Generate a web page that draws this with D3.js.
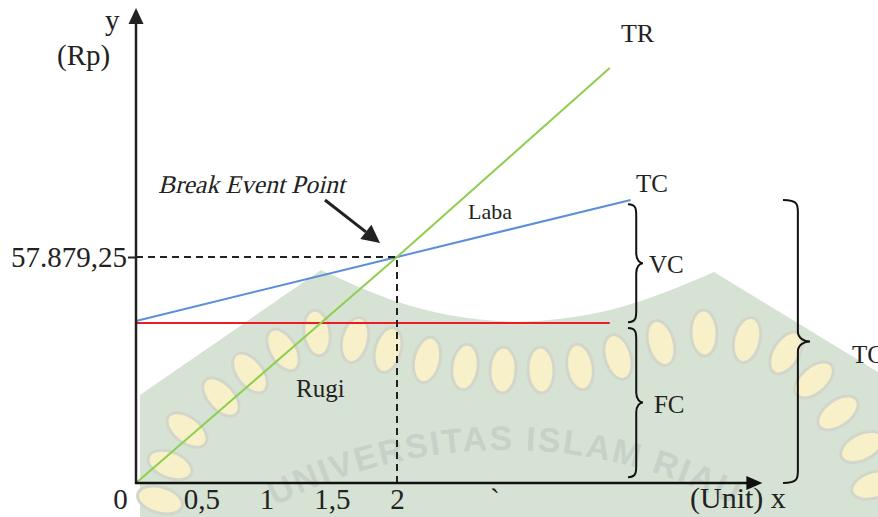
<!DOCTYPE html>
<html>
<head>
<meta charset="utf-8">
<script src="https://cdn.jsdelivr.net/npm/d3@7"></script>
<style>
  body { margin: 0; background: #fff; }
  svg { display: block; font-family: "Liberation Serif", "Times New Roman", serif; }
</style>
</head>
<body>
<svg id="chart"></svg>
<script>
const width = 878, height = 517;

// data (units on x, Rp on y)
const trUnits = [0, 2, 3.63];
const trValues = [0, 57879.25, 106300];
const tcUnits = [0, 2, 3.79];
const tcValues = [41500, 57879.25, 72500];
const fcUnits = [0, 3.63];
const fcValues = [41000, 41000];
const bepUnit = 2;
const bepValue = 57879.25;
const xTicks = [0.5, 1, 1.5, 2];
const yTicks = [bepValue];
const xMax = 4.8, yMax = 121650;

// annotations, in chart units
const labels = [
  { text: "TR", u: 3.716, v: 112900, size: 26 },
  { text: "TC", u: 3.831, v: 74500, size: 25 },
  { text: "VC", u: 3.931, v: 53800, size: 25 },
  { text: "FC", u: 3.969, v: 17900, size: 25 },
  { text: "TC", u: 5.487, v: 30700, size: 25 },
  { text: "Laba", u: 2.544, v: 67600, size: 22 },
  { text: "Rugi", u: 1.226, v: 22000, size: 25 },
  { text: "Break Event Point", u: 0.169, v: 74270, size: 25.5, italic: true }
];
const braces = [
  { u: 3.77, top: 71400, bottom: 41200, w: 15 },
  { u: 3.77, top: 39700, bottom: 1500, w: 15 },
  { u: 4.958, top: 72500, bottom: 0, w: 27 }
];

const svg = d3.select("#chart").attr("width", width).attr("height", height);

const x = d3.scaleLinear().domain([0, 2]).range([136, 397]);
const y = d3.scaleLinear().domain([0, 57879.25]).range([483, 257]);

const idn = d3.formatLocale({ decimal: ",", thousands: ".", grouping: [3], currency: ["Rp", ""] });

// faint watermark in the background
const wm = svg.append("g").attr("class", "watermark");
wm.append("path")
  .attr("d", "M140,517 L140,395 L321,270 C370,292 420,318 513,322 C600,320 650,300 714,272 L878,372 L878,517 Z")
  .attr("fill", "#d6e3d4");
const leafPts = [[160,500],[170,465],[187,430],[221,397],[250,373],[283,350],[317,333],[355,340],[388,350],
  [427,360],[465,367],[503,370],[541,370],[580,367],[618,357],[661,343],[704,333],[747,340],[786,353],
  [814,380],[838,413],[862,447],[874,485]];
leafPts.forEach((p, i) => {
  const a = leafPts[Math.max(0, i - 1)], b = leafPts[Math.min(leafPts.length - 1, i + 1)];
  const ang = Math.atan2(b[1] - a[1], b[0] - a[0]) * 180 / Math.PI;
  wm.append("ellipse")
    .attr("transform", `translate(${p[0]},${p[1]}) rotate(${ang})`)
    .attr("rx", 13).attr("ry", 23)
    .attr("fill", "#f8f0c8").attr("stroke", "#d2d6cb").attr("stroke-width", 3);
});
wm.append("path").attr("id", "wmArc")
  .attr("d", "M5,950 A500,500 0 0,1 1005,950").attr("fill", "none");
wm.append("text")
  .attr("font-family", "Liberation Sans, Arial, sans-serif")
  .attr("font-weight", "bold").attr("font-size", 34).attr("letter-spacing", 2)
  .attr("fill", "#c8d1c8")
  .append("textPath").attr("href", "#wmArc").attr("startOffset", "50%")
  .attr("text-anchor", "middle").text("UNIVERSITAS ISLAM RIAU");

// lines
const line = d3.line().x(d => x(d[0])).y(d => y(d[1]));
svg.append("path").datum(d3.zip(fcUnits, fcValues)).attr("d", line)
  .attr("fill", "none").attr("stroke", "#ea1c24").attr("stroke-width", 2);
svg.append("path").datum(d3.zip(tcUnits, tcValues)).attr("d", line)
  .attr("fill", "none").attr("stroke", "#5b8fd8").attr("stroke-width", 2);
svg.append("path").datum(d3.zip(trUnits, trValues)).attr("d", line)
  .attr("fill", "none").attr("stroke", "#8fcf4f").attr("stroke-width", 2);

// dashed guides to break even point
svg.append("path")
  .attr("d", `M${x(0)},${y(bepValue)} H${x(bepUnit)} V${y(0)}`)
  .attr("fill", "none").attr("stroke", "#222").attr("stroke-width", 2).attr("stroke-dasharray", "7,5");

// axes
svg.append("g")
  .attr("transform", `translate(0,${y(0)})`)
  .call(d3.axisBottom(x).tickValues(xTicks).tickSize(0).tickPadding(5).tickFormat(idn.format("")))
  .call(g => g.select(".domain").remove())
  .attr("font-family", null).attr("font-size", 29)
  .call(g => g.selectAll("text").attr("fill", "#222"));

svg.append("g")
  .attr("transform", `translate(${x(0)},0)`)
  .call(d3.axisLeft(y).tickValues(yTicks).tickSize(8).tickPadding(1).tickFormat(idn.format(",.2f")))
  .call(g => g.select(".domain").remove())
  .attr("font-family", null).attr("font-size", 29)
  .call(g => g.selectAll("line").attr("stroke", "#222").attr("stroke-width", 2))
  .call(g => g.selectAll("text").attr("fill", "#222"));

const x0 = x(0), y0 = y(0), xEnd = x(xMax), yEnd = y(yMax);
svg.append("line").attr("x1", x0).attr("y1", y0 + 1).attr("x2", x0).attr("y2", yEnd + 14)
  .attr("stroke", "#222").attr("stroke-width", 2.5);
svg.append("path").attr("d", `M${x0},${yEnd} L${x0 - 7.5},${yEnd + 16} L${x0 + 7.5},${yEnd + 16} Z`).attr("fill", "#222");
svg.append("line").attr("x1", x0 - 1).attr("y1", y0).attr("x2", xEnd - 14).attr("y2", y0)
  .attr("stroke", "#111").attr("stroke-width", 2.5);
svg.append("path").attr("d", `M${xEnd},${y0} L${xEnd - 16},${y0 - 7} L${xEnd - 16},${y0 + 7} Z`).attr("fill", "#111");

svg.append("text").attr("x", x0 - 15.5).attr("y", 509).attr("text-anchor", "middle")
  .attr("font-size", 29).attr("fill", "#222").text("0");
svg.append("text").attr("x", 490).attr("y", 509).attr("font-size", 29).attr("fill", "#222").text("`");
svg.append("text").attr("x", 690).attr("y", 508).attr("font-size", 30).attr("fill", "#222").text("(Unit) x");
svg.append("text").attr("x", 105).attr("y", 30).attr("font-size", 29).attr("fill", "#222").text("y");
svg.append("text").attr("x", 57).attr("y", 65).attr("font-size", 29).attr("fill", "#222").text("(Rp)");

// annotation labels (italic faked with a skew so the serif face is kept)
svg.append("g").selectAll("text").data(labels).join("text")
  .attr("transform", d => `translate(${x(d.u)},${y(d.v)})` + (d.italic ? " skewX(-14)" : ""))
  .attr("font-size", d => d.size)
  .attr("fill", "#222")
  .text(d => d.text);

// arrow to break even point
const aFrom = [x(1.448), y(72480)], aTo = [x(1.87), y(61470)];
const ang = Math.atan2(aTo[1] - aFrom[1], aTo[0] - aFrom[0]);
const hl = 18, hw = 9;
const base = [aTo[0] - hl * Math.cos(ang), aTo[1] - hl * Math.sin(ang)];
svg.append("line").attr("x1", aFrom[0]).attr("y1", aFrom[1]).attr("x2", base[0]).attr("y2", base[1])
  .attr("stroke", "#222").attr("stroke-width", 3);
svg.append("path")
  .attr("d", `M${aTo[0]},${aTo[1]} L${base[0] + hw * Math.sin(ang)},${base[1] - hw * Math.cos(ang)} L${base[0] - hw * Math.sin(ang)},${base[1] + hw * Math.cos(ang)} Z`)
  .attr("fill", "#222");

// curly braces
function bracePath(bx, yt, yb, w) {
  const ym = (yt + yb) / 2, xm = bx + w * 0.55;
  return `M${bx},${yt} C${xm},${yt} ${xm},${yt + 5} ${xm},${yt + 12}` +
    ` L${xm},${ym - 10} C${xm},${ym - 3} ${bx + w * 0.8},${ym} ${bx + w},${ym}` +
    ` C${bx + w * 0.8},${ym} ${xm},${ym + 3} ${xm},${ym + 10}` +
    ` L${xm},${yb - 12} C${xm},${yb - 5} ${xm},${yb} ${bx},${yb}`;
}
svg.append("g").selectAll("path").data(braces).join("path")
  .attr("d", d => bracePath(x(d.u), y(d.top), y(d.bottom), d.w))
  .attr("fill", "none").attr("stroke", "#111").attr("stroke-width", 2);
</script>
</body>
</html>
